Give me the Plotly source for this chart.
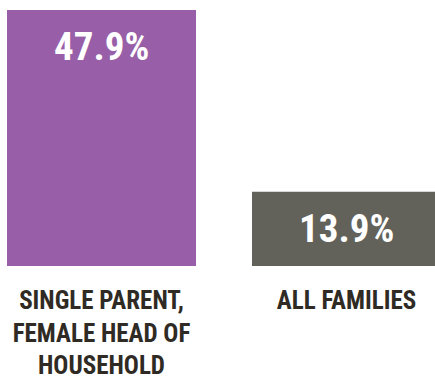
import plotly.graph_objects as go

categories = ["SINGLE PARENT,<br>FEMALE HEAD OF<br>HOUSEHOLD", "ALL FAMILIES"]
values = [47.9, 13.9]
value_labels = ["47.9%", "13.9%"]
bar_colors = ["#985EA7", "#62625A"]

FONT = "Roboto Condensed, Roboto, sans-serif"

fig = go.Figure(
    go.Bar(
        x=[0, 1],
        y=values,
        width=0.7714,
        marker=dict(color=bar_colors, line=dict(width=0)),
        hoverinfo="skip",
    )
)

# value labels sit just under the top edge of each bar
for i, (v, lab) in enumerate(zip(values, value_labels)):
    fig.add_annotation(
        x=i, y=v, xref="x", yref="y",
        text=lab,
        showarrow=False,
        yanchor="top", yshift=-12,
        font=dict(family=FONT, size=39, color="white", weight="bold"),
    )

fig.update_layout(
    width=435, height=383,
    margin=dict(l=0, r=0, t=0, b=117),
    paper_bgcolor="white",
    plot_bgcolor="white",
    showlegend=False,
    xaxis=dict(
        range=[-0.4143, 1.3612],
        tickmode="array",
        tickvals=[0, 1],
        ticktext=categories,
        tickfont=dict(family=FONT, size=25, color="#2F2B24", weight="bold"),
        showgrid=False, zeroline=False, showline=False, ticks="",
        ticklabelstandoff=17,
        ticklabeloverflow="allow",
        fixedrange=True,
    ),
    yaxis=dict(
        range=[0, 49.77],
        visible=False,
        fixedrange=True,
    ),
)

fig.write_html("out.html", config={"displayModeBar": False})
